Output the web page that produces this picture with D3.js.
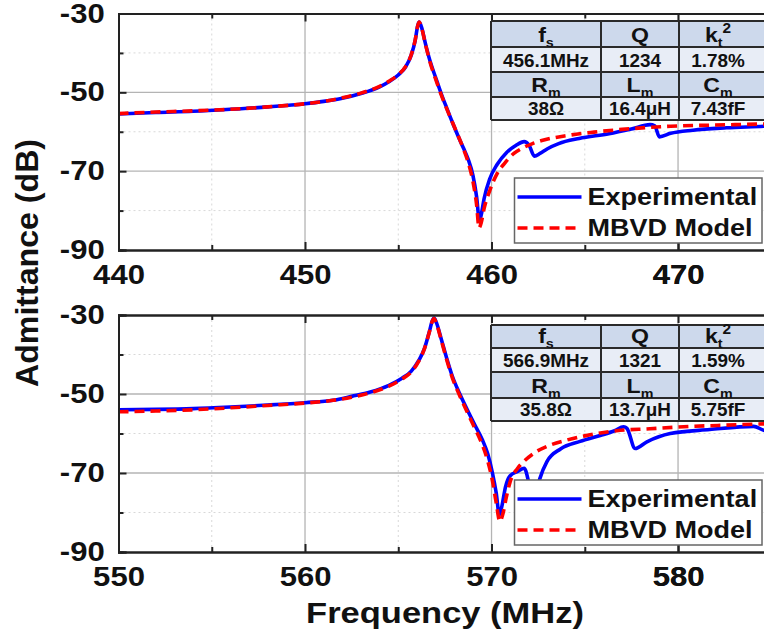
<!DOCTYPE html>
<html>
<head>
<meta charset="utf-8">
<script src="https://cdn.jsdelivr.net/npm/d3@7"></script>
<style>
body { margin: 0; background: #fff; }
svg text { font-family: "Liberation Sans", Arial, sans-serif; font-weight: bold; fill: #111; }
</style>
</head>
<body>
<script>
var w = 764;
var h = 638;
var sx = 1.15; // the original lettering is wide, stretch text sideways

// ---- top device (around 456 MHz)
var topFreq = [440,442,444,446,448,450,451,452,453,454,454.5,455,455.4,455.7,455.9,456.05,456.12,456.25,456.45,456.7,457.0,457.3,457.6,457.9,458.2,458.5,458.75,459.0,459.2,459.35,459.45,459.6,459.9,460.3,460.8,461.3,461.75,462.0,462.3,462.6,463.0,463.6,464.7,466.3,467.5,468.5,468.75,469.0,469.6,470.8,472.6,474.6,475];
var topExp = [-55.5,-55.1,-54.8,-54.3,-53.7,-52.9,-52.3,-51.5,-50.3,-48.6,-47.3,-45.6,-43.5,-40.5,-37.0,-33.0,-32.2,-33.5,-37.5,-42.0,-46.2,-50.3,-54.0,-57.6,-61.0,-64.2,-67.0,-71.0,-76.5,-82.5,-81.0,-77.0,-72.0,-68.3,-65.3,-63.5,-62.5,-63.3,-66.2,-65.5,-64.3,-63.0,-61.7,-60.5,-59.3,-58.2,-58.5,-61.3,-60.4,-59.6,-59.0,-58.6,-58.5];
var topModelFreq = [440,442,444,446,448,450,451,452,453,454,454.5,455,455.4,455.7,455.9,456.05,456.12,456.25,456.45,456.7,457.0,457.3,457.6,457.9,458.2,458.5,458.75,459.0,459.2,459.33,459.45,459.6,459.9,460.3,460.7,461.2,461.6,462.2,462.8,464.0,465.5,467,469.6,472,475];
var topModel = [-55.4,-55.0,-54.7,-54.3,-53.7,-52.9,-52.3,-51.4,-50.2,-48.5,-47.2,-45.5,-43.4,-40.4,-36.9,-33.0,-32.2,-33.6,-37.7,-42.3,-46.6,-50.6,-54.2,-57.6,-60.9,-64.4,-67.8,-72.5,-78.5,-84.4,-83.0,-79.5,-75.0,-70.6,-68.0,-65.5,-64.3,-63.0,-62.1,-61.0,-60.1,-59.4,-58.6,-58.3,-58.0];

// ---- bottom device (around 567 MHz)
var botFreq = [550,552,554,556,558,560,561.5,562.5,563.5,564.5,565.2,565.7,566.1,566.4,566.65,566.85,566.92,567.05,567.3,567.6,567.9,568.3,568.7,569.1,569.5,569.8,570.05,570.25,570.42,570.55,570.75,571.0,571.4,571.75,571.95,572.15,572.35,572.6,572.97,573.7,574.75,575.83,576.6,577.08,577.26,577.7,578.33,579.58,581.7,584.05,584.6,585];
var botExp = [-54.0,-53.9,-53.7,-53.3,-52.8,-52.2,-51.6,-50.6,-49.5,-47.8,-46.0,-44.2,-41.5,-38.5,-34.5,-31.2,-30.8,-32.0,-36.0,-41.0,-45.5,-50.0,-54.0,-57.8,-61.5,-65.2,-70.0,-75.0,-80.6,-78.5,-73.5,-70.7,-69.6,-68.8,-71.5,-77.0,-76.0,-71.3,-67.1,-63.9,-62.0,-60.5,-59.3,-58.3,-58.7,-63.8,-62.1,-60.0,-59.0,-58.2,-59.2,-59.6];
var botModelFreq = [550,552,554,556,558,560,561.5,562.5,563.5,564.5,565.2,565.7,566.1,566.4,566.65,566.85,566.92,567.05,567.3,567.6,567.9,568.3,568.7,569.1,569.5,569.8,570.05,570.25,570.45,570.6,570.8,571.0,571.4,571.75,572.4,573.0,574.0,575.0,576.7,578.5,580.3,582.5,585];
var botModel = [-54.5,-54.3,-54.0,-53.5,-52.9,-52.3,-51.6,-50.8,-49.7,-48.0,-46.2,-44.4,-41.7,-38.6,-34.6,-31.3,-30.9,-32.2,-36.3,-41.4,-45.9,-50.5,-54.6,-58.6,-62.8,-67.0,-72.0,-77.5,-82.3,-80.5,-76.0,-72.2,-68.8,-67.0,-64.6,-63.2,-61.7,-60.6,-59.3,-58.8,-58.3,-57.9,-57.5];

var topTicksX = [440,450,460,470];
var botTicksX = [550,560,570,580];
var yTicks = [-30,-50,-70,-90];
var yMinor = [-40,-60,-80];
var legendNames = ["Experimental","MBVD Model"];

// table contents
var headRow1 = [{t:"f",sub:"s"},{t:"Q"},{t:"k",sub:"t",sup:"2"}];
var headRow2 = [{t:"R",sub:"m"},{t:"L",sub:"m"},{t:"C",sub:"m"}];
var topValues1 = ["456.1MHz","1234","1.78%"];
var topValues2 = ["38\u03A9","16.4\u03BCH","7.43fF"];
var botValues1 = ["566.9MHz","1321","1.59%"];
var botValues2 = ["35.8\u03A9","13.7\u03BCH","5.75fF"];

var svg = d3.select("body").append("svg").attr("width",w).attr("height",h);

var left = 118.5, right = 771.3;

var draw = function(id, yTop, yBot, f0, ticksX, freqE, valE, freqM, valM, rows, vals1, vals2){
  var x = d3.scaleLinear().domain([f0, f0+35]).range([left, right]);
  var y = d3.scaleLinear().domain([-90,-30]).range([yBot, yTop]);
  var g = svg.append("g");

  var minorX = [f0+5, f0+15, f0+25];
  var majorX = [f0+10, f0+20, f0+30];

  // grid
  g.selectAll(".gmx").data(minorX).enter().append("line")
  .attr("x1",function(d){return x(d);}).attr("x2",function(d){return x(d);})
  .attr("y1",yTop).attr("y2",yBot)
  .attr("stroke","#d8d8d8").attr("stroke-width",1).attr("stroke-dasharray","2,3");
  g.selectAll(".gmy").data(yMinor).enter().append("line")
  .attr("x1",left).attr("x2",w)
  .attr("y1",function(d){return y(d);}).attr("y2",function(d){return y(d);})
  .attr("stroke","#d8d8d8").attr("stroke-width",1).attr("stroke-dasharray","2,3");
  g.selectAll(".gx").data(majorX).enter().append("line")
  .attr("x1",function(d){return x(d);}).attr("x2",function(d){return x(d);})
  .attr("y1",yTop).attr("y2",yBot)
  .attr("stroke","#b4b4b4").attr("stroke-width",1.3);
  g.selectAll(".gy").data([-50,-70]).enter().append("line")
  .attr("x1",left).attr("x2",w)
  .attr("y1",function(d){return y(d);}).attr("y2",function(d){return y(d);})
  .attr("stroke","#b4b4b4").attr("stroke-width",1.3);

  // curves
  svg.append("clipPath").attr("id","clip"+id).append("rect")
  .attr("x",left).attr("y",yTop).attr("width",w-left).attr("height",yBot-yTop);

  var line = d3.line().x(function(d){return x(d[0]);}).y(function(d){return y(d[1]);}).curve(d3.curveMonotoneX);

  g.append("path").datum(d3.zip(freqE, valE))
  .attr("d",line).attr("clip-path","url(#clip"+id+")")
  .attr("fill","none").attr("stroke","#0000ff").attr("stroke-width",3.6).attr("stroke-linejoin","round");
  g.append("path").datum(d3.zip(freqM, valM))
  .attr("d",line).attr("clip-path","url(#clip"+id+")")
  .attr("fill","none").attr("stroke","#ff0000").attr("stroke-width",3.6).attr("stroke-dasharray","10,6");

  // axes, ticks point inwards
  var xb = g.append("g").attr("transform","translate(0,"+yBot+")")
  .call(d3.axisBottom(x).tickValues(ticksX.concat([f0+30])).tickSize(-8).tickPadding(15).tickFormat(function(d){return ticksX.indexOf(d)>=0 ? d : "";}));
  g.append("g").attr("transform","translate(0,"+yBot+")")
  .call(d3.axisBottom(x).tickValues(minorX).tickSize(-5).tickFormat(""));
  g.append("g").attr("transform","translate(0,"+yTop+")")
  .call(d3.axisTop(x).tickValues(majorX).tickSize(-8).tickFormat(""));
  g.append("g").attr("transform","translate(0,"+yTop+")")
  .call(d3.axisTop(x).tickValues(minorX).tickSize(-5).tickFormat(""));
  var yl = g.append("g").attr("transform","translate("+left+",0)")
  .call(d3.axisLeft(y).tickValues(yTicks).tickSize(-8).tickPadding(12).tickFormat(function(d){return String(d);}));
  g.append("g").attr("transform","translate("+left+",0)")
  .call(d3.axisLeft(y).tickValues(yMinor).tickSize(-5).tickFormat(""));

  g.selectAll(".domain").attr("stroke","#222").attr("stroke-width",2);
  g.selectAll(".tick line").attr("stroke","#222").attr("stroke-width",2);
  xb.selectAll(".tick text").attr("font-size",27).attr("fill","#111").attr("transform","scale("+sx+",1)");
  yl.selectAll(".tick text").attr("font-size",27).attr("fill","#111").attr("transform","scale("+sx+",1)");
  g.selectAll("text").style("font-family","'Liberation Sans', Arial, sans-serif").style("font-weight","bold");

  // parameter table
  var cols = [491, 601, 679, 775];
  var centers = [546, 640, 718];
  var fills = ["#cdd9ec","#e8edf6","#cdd9ec","#e8edf6"];
  var t = g.append("g");
  t.selectAll(".row").data([0,1,2,3]).enter().append("rect")
  .attr("x",cols[0]).attr("y",function(d){return rows[d];})
  .attr("width",cols[3]-cols[0]).attr("height",function(d){return rows[d+1]-rows[d];})
  .attr("fill",function(d){return fills[d];});
  t.selectAll(".hl").data(rows).enter().append("line")
  .attr("x1",cols[0]).attr("x2",cols[3]).attr("y1",function(d){return d;}).attr("y2",function(d){return d;})
  .attr("stroke","#2a2a2a").attr("stroke-width",2);
  t.selectAll(".vl").data(cols).enter().append("line")
  .attr("x1",function(d){return d;}).attr("x2",function(d){return d;}).attr("y1",rows[0]).attr("y2",rows[4])
  .attr("stroke","#2a2a2a").attr("stroke-width",2);

  var heads = [headRow1, headRow2];
  heads.forEach(function(hr, r){
    var base = rows[r*2+1] - 5;
    hr.forEach(function(c, i){
      var tx = t.append("text").attr("text-anchor","middle")
      .attr("transform","translate("+centers[i]+","+base+") scale(1.1,1)")
      .attr("font-size",21);
      tx.append("tspan").text(c.t);
      if (c.sub) tx.append("tspan").attr("font-size",13).attr("dy",5).text(c.sub);
      if (c.sup) tx.append("tspan").attr("font-size",14).attr("dy",-14).text(c.sup);
    });
  });
  [vals1, vals2].forEach(function(vr, r){
    var base = rows[r*2+2] - 5;
    vr.forEach(function(v, i){
      t.append("text").attr("text-anchor","middle")
      .attr("transform","translate("+centers[i]+","+base+") scale(1.05,1)")
      .attr("font-size",18).text(v);
    });
  });

  // legend
  var lg = g.append("g").attr("transform","translate(514.5,"+(yBot-72)+")");
  lg.append("rect").attr("width",247.5).attr("height",65)
  .attr("fill","#fff").attr("stroke","#666").attr("stroke-width",1.5);
  lg.selectAll(".ll").data(legendNames).enter().append("line")
  .attr("x1",3).attr("x2",67)
  .attr("y1",function(d,i){return 19+i*31;}).attr("y2",function(d,i){return 19+i*31;})
  .attr("stroke",function(d,i){return i==0 ? "#0000ff" : "#ff0000";})
  .attr("stroke-width",3.6)
  .attr("stroke-dasharray",function(d,i){return i==0 ? null : "10,6";});
  lg.selectAll(".lt").data(legendNames).enter().append("text")
  .attr("transform",function(d,i){return "translate(73,"+(27+i*31)+") scale("+sx+",1)";})
  .attr("font-size",23.5).text(function(d){return d;});
};

draw("a", 13.5, 250, 440, topTicksX, topFreq, topExp, topModelFreq, topModel, [21,47,72,97,120], topValues1, topValues2);
draw("b", 315, 552, 550, botTicksX, botFreq, botExp, botModelFreq, botModel, [325,348,372,398,421], botValues1, botValues2);

// axis titles
svg.append("text").attr("text-anchor","middle")
.attr("transform","translate(445,623) scale("+sx+",1)")
.attr("font-size",30).text("Frequency (MHz)");
svg.append("text").attr("text-anchor","middle")
.attr("transform","translate(38,263) rotate(-90)")
.attr("font-size",31).attr("textLength",248).attr("lengthAdjust","spacingAndGlyphs")
.text("Admittance (dB)");
</script>
</body>
</html>
